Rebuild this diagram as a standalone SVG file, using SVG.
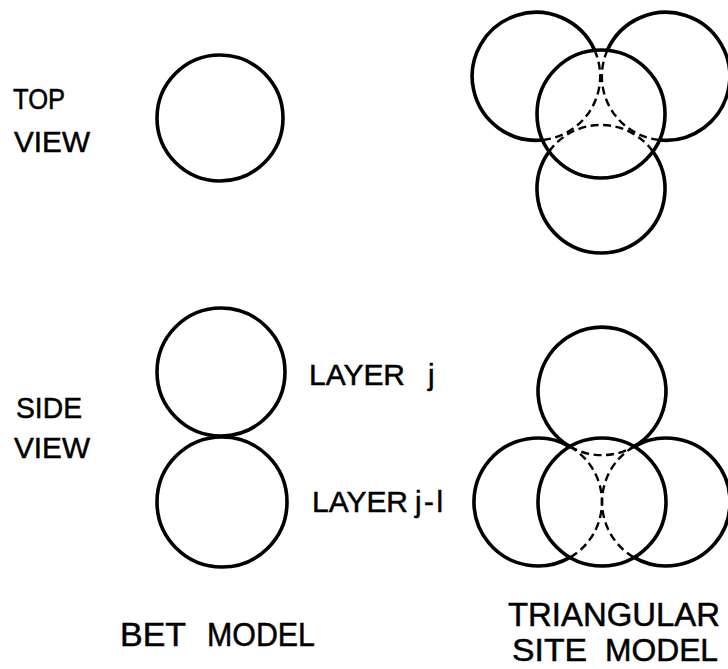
<svg xmlns="http://www.w3.org/2000/svg" width="728" height="669" viewBox="0 0 728 669">
<style>
.c{fill:none;stroke:#000;stroke-width:3.6}
.d{fill:none;stroke:#000;stroke-width:2.4;stroke-dasharray:8 4.5}
.t{font-family:"Liberation Sans",Arial,sans-serif;fill:#000;stroke:#000;stroke-width:0.5}
.s{font-size:29.5px}
.b{font-size:33px}
.b2{font-size:32px}
</style>
<rect width="728" height="669" fill="#fff"/>
<g id="labels-rows">
<text class="t s" x="13" y="109" textLength="52" lengthAdjust="spacingAndGlyphs">TOP</text>
<text class="t s" x="14" y="152" textLength="76" lengthAdjust="spacingAndGlyphs">VIEW</text>
<text class="t s" x="16" y="418" textLength="66" lengthAdjust="spacingAndGlyphs">SIDE</text>
<text class="t s" x="14" y="458" textLength="76" lengthAdjust="spacingAndGlyphs">VIEW</text>
</g>
<g id="bet-top">
<circle class="c" cx="220" cy="118" r="63"/>
</g>
<g id="bet-side-layer-j">
<circle class="c" cx="221" cy="372" r="64"/>
<text class="t s" x="309" y="385" textLength="96" lengthAdjust="spacingAndGlyphs">LAYER</text>
<text class="t s" x="428" y="385">j</text>
</g>
<g id="bet-side-layer-j-1">
<circle class="c" cx="222" cy="502" r="65"/>
<text class="t s" x="312" y="512" textLength="96" lengthAdjust="spacingAndGlyphs">LAYER</text>
<text class="t s" x="415" y="512" textLength="28" lengthAdjust="spacing">j-l</text>
</g>
<g id="triangular-top">
<path class="c" d="M594.5 50 A64 64 0 1 0 542.5 140"/>
<path class="d" d="M594.5 50 A64 64 0 0 1 542.5 140"/>
<path class="c" d="M607.5 50 A64 64 0 1 1 659.5 140"/>
<path class="d" d="M607.5 50 A64 64 0 0 0 659.5 140"/>
<path class="c" d="M549.1 151.5 A64 64 0 1 0 652.9 151.5"/>
<path class="d" d="M549.1 151.5 A64 64 0 0 1 652.9 151.5"/>
<circle class="c" cx="601" cy="114" r="64"/>
</g>
<g id="triangular-side">
<path class="c" d="M570 446.6 A64 64 0 1 1 634 446.6"/>
<path class="d" d="M570 446.6 A64 64 0 0 0 634 446.6"/>
<path class="c" d="M570 446.6 A64 64 0 1 0 570 557.4"/>
<path class="d" d="M570 446.6 A64 64 0 0 1 570 557.4"/>
<path class="c" d="M634 446.6 A64 64 0 1 1 634 557.4"/>
<path class="d" d="M634 446.6 A64 64 0 0 0 634 557.4"/>
<circle class="c" cx="602" cy="502" r="64"/>
</g>
<g id="labels-columns">
<text class="t b" x="120" y="646" textLength="66" lengthAdjust="spacingAndGlyphs">BET</text>
<text class="t b" x="207" y="646" textLength="108" lengthAdjust="spacingAndGlyphs">MODEL</text>
<text class="t b" x="508" y="626" textLength="212" lengthAdjust="spacingAndGlyphs">TRIANGULAR</text>
<text class="t b2" x="512" y="661" textLength="75" lengthAdjust="spacingAndGlyphs">SITE</text>
<text class="t b2" x="605" y="661" textLength="113" lengthAdjust="spacingAndGlyphs">MODEL</text>
</g>
</svg>
